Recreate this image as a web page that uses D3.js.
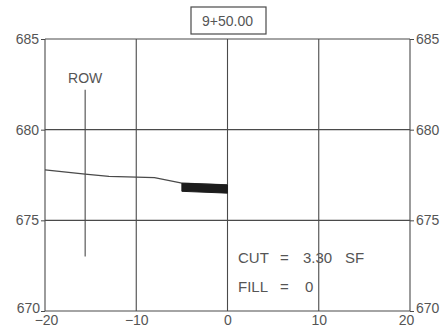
<!DOCTYPE html>
<html><head><meta charset="utf-8">
<script src="https://cdn.jsdelivr.net/npm/d3@7"></script>
<style>body{margin:0;background:#fff}svg{display:block}text{font-family:"Liberation Sans",Arial,sans-serif}</style>
</head><body><svg id="c" width="448" height="332"></svg>
<script>
const title = "9+50.00";
const xTicks = [-20, -10, 0, 10, 20];
const yTicks = [670, 675, 680, 685];
const groundX = [-20, -15.6, -13, -8, -5, 0];
const groundY = [677.78, 677.55, 677.42, 677.35, 677.05, 676.95];
const cutTopX = [-5, 0];
const cutTopY = [677.05, 676.95];
const cutBotY = [676.6, 676.5];
const rowX = -15.6;
const rowY = [682.2, 673.0];
const rowLabel = "ROW";
const cutLines = [["CUT", "=", "3.30", "SF"], ["FILL", "=", "0"]];

const svg = d3.select("#c");
const x = d3.scaleLinear().domain([-20, 20]).range([45, 410]);
const y = d3.scaleLinear().domain([670, 685]).range([311, 39]);
const ink = "#4a4a4a", txt = "#555";

// grid
svg.append("g").selectAll("line").data(xTicks).join("line")
  .attr("x1", d => x(d)).attr("x2", d => x(d)).attr("y1", y(685)).attr("y2", y(670))
  .attr("stroke", ink).attr("stroke-width", 1.1);
svg.append("g").selectAll("line").data(yTicks).join("line")
  .attr("x1", x(-20)).attr("x2", x(20)).attr("y1", d => y(d)).attr("y2", d => y(d))
  .attr("stroke", ink).attr("stroke-width", 1.1);

// axes
const fs = 14;
const la = svg.append("g").attr("transform", `translate(${x(-20)},0)`)
  .call(d3.axisLeft(y).tickValues(yTicks).tickSize(4).tickPadding(2).tickFormat(d3.format("d")));
const ra = svg.append("g").attr("transform", `translate(${x(20)},0)`)
  .call(d3.axisRight(y).tickValues(yTicks).tickSize(4).tickPadding(2).tickFormat(d3.format("d")));
const ba = svg.append("g").attr("transform", `translate(0,${y(670)})`)
  .call(d3.axisBottom(x).tickValues(xTicks).tickSize(0).tickPadding(4).tickFormat(d => d < 0 ? "\u2212" + Math.abs(d) : d));
[la, ra, ba].forEach(g => {
  g.select(".domain").remove();
  g.selectAll("line").attr("stroke", ink);
  g.selectAll("text").attr("fill", txt).style("font-size", fs + "px").style("font-family", '"Liberation Sans",Arial,sans-serif');
});
// lift the bottom-most value labels so they clear the x labels, as in the reference
[la, ra].forEach(g => g.selectAll(".tick").filter(d => d === 670).select("text").attr("y", -3));
la.selectAll(".tick").filter(d => d === 670).select("text").attr("x", -5);
ba.selectAll(".tick").filter(d => d === 20).select("text").attr("dx", -4);
ba.selectAll(".tick").filter(d => d === -20).select("text").attr("dx", 1);

// title box
const tb = svg.append("g");
tb.append("rect").attr("x", 191).attr("y", 7).attr("width", 75).attr("height", 27)
  .attr("fill", "#fff").attr("stroke", ink).attr("stroke-width", 1.2);
tb.append("text").attr("x", x(0)).attr("y", 26).attr("text-anchor", "middle")
  .attr("fill", txt).style("font-size", "14px").text(title);

// ROW
svg.append("line").attr("x1", x(rowX)).attr("x2", x(rowX)).attr("y1", y(rowY[0])).attr("y2", y(rowY[1]))
  .attr("stroke", ink).attr("stroke-width", 1.1);
svg.append("text").attr("x", x(rowX)).attr("y", 83).attr("text-anchor", "middle")
  .attr("fill", txt).style("font-size", "14px").text(rowLabel);

// ground line
const pts = groundX.map((d, i) => [x(d), y(groundY[i])]);
svg.append("path").attr("d", d3.line()(pts)).attr("fill", "none").attr("stroke", ink).attr("stroke-width", 1.3);

// cut area
const poly = cutTopX.map((d, i) => [x(d), y(cutTopY[i])])
  .concat(cutTopX.map((d, i) => [x(d), y(cutBotY[i])]).reverse());
svg.append("path").attr("d", d3.line()(poly) + "Z").attr("fill", "#1c1c1c").attr("stroke", "#1c1c1c").attr("stroke-width", 1);

// cut/fill text
const colX = [238, 280, 303, 345];
cutLines.forEach((row, r) => {
  const t = svg.append("text").attr("y", 263 + r * 29).attr("fill", txt).style("font-size", "15px");
  row.forEach((s, i) => t.append("tspan").attr("x", colX[i] + (r === 1 && i === 2 ? 2 : 0)).text(s));
});
</script></body></html>
